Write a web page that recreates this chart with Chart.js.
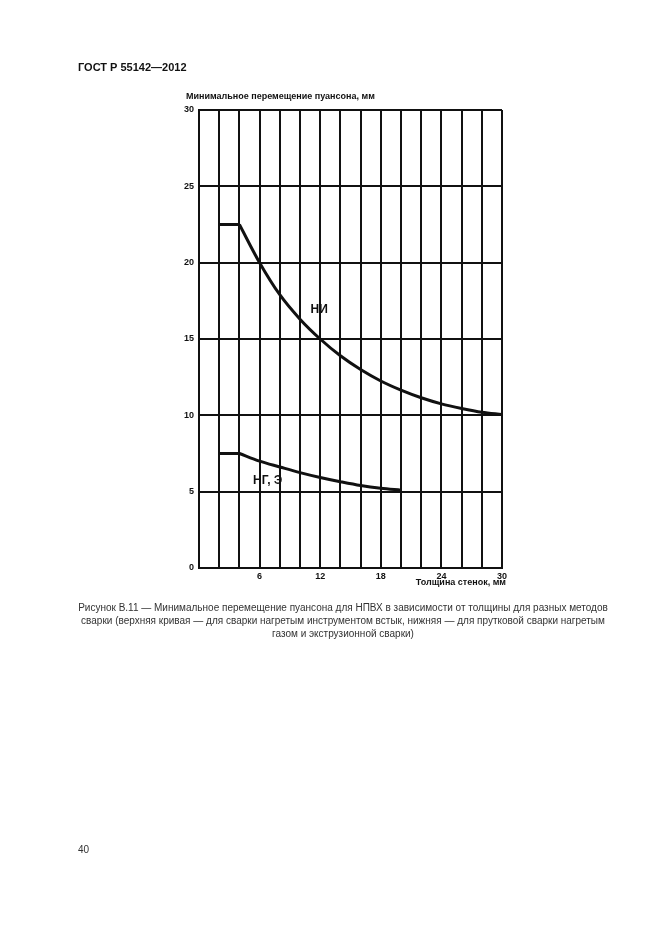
<!DOCTYPE html>
<html>
<head>
<meta charset="utf-8">
<script src="https://cdn.jsdelivr.net/npm/chart.js@4"></script>
<style>
  body { margin: 0; background: #fff; font-family: "Liberation Sans", Arial, sans-serif; color: #222; }
  #page { position: relative; width: 661px; height: 935px; overflow: hidden; }
  #graph { position: absolute; left: 0; top: 0; }
  .hdr { position: absolute; left: 78px; top: 61px; font-weight: bold; font-size: 11px; color: #111; }
  .cap { position: absolute; left: 43px; width: 600px; top: 601px; font-size: 10px; line-height: 13px; text-align: center; color: #333; white-space: nowrap; }
  .pnum { position: absolute; left: 78px; top: 844px; font-size: 10px; color: #333; }
</style>
</head>
<body>
<div id="page">
  <canvas id="graph" width="661" height="935"></canvas>
  <div class="hdr">ГОСТ Р 55142—2012</div>
  <div class="cap">Рисунок В.11 — Минимальное перемещение пуансона для НПВХ в зависимости от толщины для разных методов<br>сварки (верхняя кривая — для сварки нагретым инструментом встык, нижняя — для прутковой сварки нагретым<br>газом и экструзионной сварки)</div>
  <div class="pnum">40</div>
</div>
<script>
// толщина стенок, мм / перемещение пуансона, мм (первые две точки - горизонтальный участок)
var upperX = [2, 4, 6, 8, 10, 12, 14, 16, 18, 20, 22, 24, 26, 28, 30];
var upperY = [22.5, 22.5, 20.0, 17.9, 16.3, 15.0, 13.9, 13.0, 12.25, 11.65, 11.15, 10.75, 10.45, 10.2, 10.05];
var lowerX = [2, 4, 6, 8, 10, 12, 14, 16, 18, 20];
var lowerY = [7.5, 7.5, 7.0, 6.62, 6.25, 5.93, 5.65, 5.4, 5.22, 5.1];
var xTickLabels = [6, 12, 18, 24, 30];
var yTickLabels = [0, 5, 10, 15, 20, 25, 30];
var curveNames = ['НИ', 'НГ, Э'];
var curveLabelPos = [[11.9, 16.9], [6.8, 5.75]];
var yTitle = 'Минимальное перемещение пуансона, мм';
var xTitle = 'Толщина стенок, мм';

function toPoints(xs, ys) {
    var pts = [];
    for (var i = 0; i < xs.length; i++) { pts.push({x: xs[i], y: ys[i]}); }
    return pts;
}

// flat part drawn straight, the rest as a smooth curve so the corner stays sharp
function curveSets(xs, ys) {
    var pts = toPoints(xs, ys);
    var st = {borderColor: '#111', borderWidth: 3, pointRadius: 0};
    return [
        Object.assign({data: pts.slice(0, 2)}, st),
        Object.assign({data: pts.slice(1), cubicInterpolationMode: 'monotone'}, st)
    ];
}

var tickFont = {family: 'Liberation Sans', size: 9, weight: 'bold'};

var textPlugin = {
    id: 'texts',
    afterDraw: function(chart) {
        var ctx = chart.ctx, xs = chart.scales.x, ys = chart.scales.y, a = chart.chartArea;
        ctx.save();
        ctx.fillStyle = '#111';
        ctx.font = 'bold 9px "Liberation Sans"';
        ctx.textBaseline = 'middle';
        ctx.textAlign = 'left';
        ctx.fillText(yTitle, a.left - 13, a.top - 13);
        ctx.textAlign = 'right';
        ctx.fillText(xTitle, a.right + 4, a.bottom + 15);
        ctx.font = 'bold 12px "Liberation Sans"';
        ctx.textAlign = 'center';
        curveNames.forEach(function(n, i) {
            ctx.fillText(n, xs.getPixelForValue(curveLabelPos[i][0]), ys.getPixelForValue(curveLabelPos[i][1]));
        });
        ctx.restore();
    }
};

var chart = new Chart(document.getElementById('graph'), {
    type: 'line',
    data: {
        datasets: curveSets(upperX, upperY).concat(curveSets(lowerX, lowerY))
    },
    options: {
        responsive: false,
        animation: false,
        events: [],
        layout: {padding: {left: 169, right: 159, top: 110, bottom: 337}},
        plugins: {legend: {display: false}, tooltip: {enabled: false}},
        scales: {
            x: {
                type: 'linear', min: 0, max: 30,
                afterFit: function(s) { s.height = 30; },
                grid: {color: '#111', lineWidth: 2, drawTicks: false},
                border: {color: '#111', width: 2},
                ticks: {stepSize: 2, autoSkip: false, maxRotation: 0, padding: 3, color: '#111', font: tickFont,
                    callback: function(v) { return xTickLabels.indexOf(v) >= 0 ? String(v) : ''; }}
            },
            y: {
                min: 0, max: 30,
                afterFit: function(s) { s.width = 30; },
                grid: {color: '#111', lineWidth: 2, drawTicks: false},
                border: {color: '#111', width: 2},
                ticks: {stepSize: 5, padding: 5, color: '#111', font: tickFont,
                    callback: function(v) { return yTickLabels.indexOf(v) >= 0 ? String(v) : ''; }}
            }
        }
    },
    plugins: [textPlugin]
});
</script>
</body>
</html>
